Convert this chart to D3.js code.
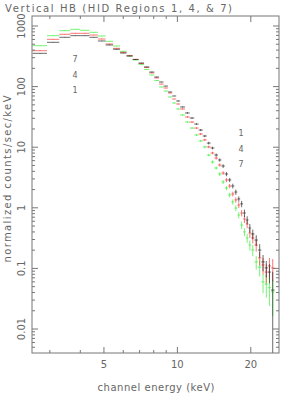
<!DOCTYPE html>
<html>
<head>
<meta charset="utf-8">
<script src="https://cdn.jsdelivr.net/npm/d3@7"></script>
<style>
  body { margin: 0; background: #fff; }
  text { font-family: "DejaVu Sans", sans-serif; fill: #666; }
</style>
</head>
<body>
<svg id="chart"></svg>
<script>
// channel energy bin edges (keV), shared by the three regions
var binEdges = [2.55, 2.92, 3.28, 3.64, 4.00, 4.36, 4.72, 5.08, 5.45, 5.82, 6.19, 6.56, 6.93, 7.30,
  7.67, 8.04, 8.41, 8.78, 9.15, 9.52, 9.89, 10.26, 10.75, 11.24, 11.73, 12.22, 12.71, 13.20, 13.69,
  14.18, 14.67, 15.16, 15.65, 16.14, 16.63, 17.12, 17.61, 18.10, 18.59, 19.08, 19.57, 20.06, 20.7,
  21.4, 22.1, 22.8, 23.5, 24.2, 25.0];

// normalized counts/sec/keV per bin
var region1 = [354, 538, 651, 692, 692, 651, 566, 486, 413, 358, 320, 280, 245, 211, 174, 144, 119,
  102, 81.5, 70, 57.9, 46.1, 36.7, 30.3, 24.1, 19.2, 15.3, 11.7, 9.7, 7.43, 6.15, 4.89, 3.61, 2.88,
  2.29, 1.82, 1.40, 1.16, 0.82, 0.63, 0.465, 0.37, 0.294, 0.201, 0.128, 0.102, 0.087, 0.044];
var region4 = [391, 603, 730, 758, 758, 710, 610, 505, 428, 368, 324, 282, 240, 207, 168, 139, 110,
  94.8, 78.4, 62.4, 51.6, 42.7, 31.5, 26.0, 20.7, 16.5, 13.2, 10.1, 8.02, 6.63, 5.08, 3.75, 2.88,
  2.29, 1.69, 1.35, 1.11, 0.82, 0.653, 0.54, 0.384, 0.318, 0.243, 0.149, 0.114, 0.087, 0.110, 0.102];
var region7 = [473, 692, 837, 882, 849, 787, 684, 559, 468, 382, 320, 275, 233, 192, 155, 126, 98.5,
  84.6, 67.4, 53.6, 42.7, 34.0, 26.0, 20.7, 15.9, 12.7, 10.1, 7.43, 5.70, 4.54, 3.61, 2.67, 2.12,
  1.63, 1.25, 0.99, 0.76, 0.52, 0.40, 0.318, 0.243, 0.201, 0.128, 0.105, 0.060, 0.055, 0.048, 0.041];

// relative 1-sigma errors per bin
var err1 = [0.01, 0.01, 0.01, 0.01, 0.01, 0.01, 0.01, 0.01, 0.01, 0.01, 0.01, 0.01, 0.01, 0.01, 0.01,
  0.01, 0.01, 0.01, 0.01, 0.01, 0.02, 0.02, 0.03, 0.03, 0.03, 0.04, 0.04, 0.05, 0.05, 0.06, 0.06,
  0.07, 0.08, 0.08, 0.09, 0.10, 0.10, 0.12, 0.14, 0.15, 0.16, 0.18, 0.20, 0.25, 0.30, 0.30, 0.35, 1.0];
var err4 = [0.01, 0.01, 0.01, 0.01, 0.01, 0.01, 0.01, 0.01, 0.01, 0.01, 0.01, 0.01, 0.01, 0.01, 0.01,
  0.01, 0.01, 0.01, 0.01, 0.01, 0.02, 0.02, 0.03, 0.03, 0.03, 0.04, 0.04, 0.05, 0.05, 0.06, 0.06,
  0.07, 0.08, 0.08, 0.09, 0.10, 0.11, 0.12, 0.14, 0.15, 0.17, 0.19, 0.22, 0.25, 0.30, 0.35, 0.35, 0.40];
var err7 = [0.01, 0.01, 0.01, 0.01, 0.01, 0.01, 0.01, 0.01, 0.01, 0.01, 0.01, 0.01, 0.01, 0.01, 0.01,
  0.01, 0.01, 0.01, 0.01, 0.02, 0.02, 0.03, 0.03, 0.03, 0.04, 0.04, 0.05, 0.05, 0.06, 0.06, 0.07,
  0.08, 0.08, 0.09, 0.10, 0.11, 0.12, 0.14, 0.15, 0.17, 0.19, 0.21, 0.25, 0.30, 0.35, 0.40, 0.50, 0.60];

var seriesColors = ["#222", "#f33", "#3e3"];
var xTickLabels = [5, 10, 20];
var yTickLabels = ["0.01", "0.1", "1", "10", "100", "1000"];
var leftMarks = ["7", "4", "1"];
var rightMarks = ["1", "4", "7"];

var width = 282, height = 395;
var margin = {top: 16, right: 3, bottom: 42, left: 32};

var svg = d3.select("#chart")
  .attr("width", width)
  .attr("height", height);

var x = d3.scaleLog()
  .domain([2.535, 26.1])
  .range([margin.left, width - margin.right]);

var y = d3.scaleLog()
  .domain([0.00402, 1462])
  .range([height - margin.bottom, margin.top]);

svg.append("clipPath").attr("id", "plotclip")
  .append("rect")
  .attr("x", margin.left).attr("y", margin.top)
  .attr("width", x.range()[1] - margin.left)
  .attr("height", y.range()[0] - margin.top);

// data crosses
var series = [
  {vals: region1, errs: err1, color: seriesColors[0]},
  {vals: region4, errs: err4, color: seriesColors[1]},
  {vals: region7, errs: err7, color: seriesColors[2]}
];

var plot = svg.append("g").attr("clip-path", "url(#plotclip)");

series.slice().reverse().forEach(function(s) {
  var g = plot.append("g")
    .attr("stroke", s.color)
    .attr("stroke-width", 0.9)
    .attr("stroke-opacity", 0.75);
  s.vals.forEach(function(v, i) {
    var lo = binEdges[i], hi = binEdges[i + 1];
    var xc = x((lo + hi) / 2);
    var vlow = v * (1 - s.errs[i]);
    var ylow = vlow > y.domain()[0] ? y(vlow) : y.range()[0];
    g.append("line")
      .attr("x1", x(lo)).attr("x2", x(hi))
      .attr("y1", y(v)).attr("y2", y(v));
    g.append("line")
      .attr("x1", xc).attr("x2", xc)
      .attr("y1", ylow).attr("y2", y(v * (1 + s.errs[i])));
  });
});

// frame
var x0 = margin.left, x1 = x.range()[1], y0 = margin.top, y1 = y.range()[0];
svg.append("rect")
  .attr("x", x0).attr("y", y0)
  .attr("width", x1 - x0).attr("height", y1 - y0)
  .attr("fill", "none").attr("stroke", "#777").attr("stroke-width", 1);

// ticks
var ticks = svg.append("g").attr("stroke", "#777").attr("stroke-width", 1);
var xMinor = x.ticks().filter(function(t) { return xTickLabels.indexOf(t) < 0; });
xMinor.forEach(function(t) {
  ticks.append("line").attr("x1", x(t)).attr("x2", x(t)).attr("y1", y1).attr("y2", y1 - 3);
  ticks.append("line").attr("x1", x(t)).attr("x2", x(t)).attr("y1", y0).attr("y2", y0 + 3);
});
xTickLabels.forEach(function(t) {
  ticks.append("line").attr("x1", x(t)).attr("x2", x(t)).attr("y1", y1).attr("y2", y1 - 6);
  ticks.append("line").attr("x1", x(t)).attr("x2", x(t)).attr("y1", y0).attr("y2", y0 + 6);
});
y.ticks().forEach(function(t) {
  var major = yTickLabels.indexOf(String(+t.toPrecision(3))) >= 0;
  var len = major ? 6 : 3;
  ticks.append("line").attr("x1", x0).attr("x2", x0 + len).attr("y1", y(t)).attr("y2", y(t));
  ticks.append("line").attr("x1", x1).attr("x2", x1 - len).attr("y1", y(t)).attr("y2", y(t));
});

// tick labels
svg.selectAll(".xlab").data(xTickLabels).enter().append("text")
  .attr("x", function(d) { return x(d); })
  .attr("y", y1 + 15)
  .attr("text-anchor", "middle")
  .attr("font-size", 10)
  .text(function(d) { return d; });

svg.selectAll(".ylab").data(yTickLabels).enter().append("text")
  .attr("transform", function(d) { return "translate(25," + y(+d) + ") rotate(-90)"; })
  .attr("text-anchor", "middle")
  .attr("font-size", 10)
  .text(function(d) { return d; });

// titles
svg.append("text")
  .attr("x", 5).attr("y", 12)
  .attr("font-size", 10)
  .attr("textLength", 227).attr("lengthAdjust", "spacing")
  .text("Vertical HB (HID Regions 1, 4, & 7)");

svg.append("text")
  .attr("x", 156).attr("y", 391)
  .attr("text-anchor", "middle")
  .attr("font-size", 10)
  .attr("textLength", 117).attr("lengthAdjust", "spacing")
  .text("channel energy (keV)");

svg.append("text")
  .attr("transform", "translate(11,179) rotate(-90)")
  .attr("text-anchor", "middle")
  .attr("font-size", 10)
  .attr("textLength", 167).attr("lengthAdjust", "spacing")
  .text("normalized counts/sec/keV");

// region markers
svg.selectAll(".lm").data(leftMarks).enter().append("text")
  .attr("x", 75).attr("y", function(d, i) { return 62 + i * 15.5; })
  .attr("text-anchor", "middle").attr("font-size", 8)
  .text(function(d) { return d; });

svg.selectAll(".rm").data(rightMarks).enter().append("text")
  .attr("x", 241).attr("y", function(d, i) { return 136 + i * 15.5; })
  .attr("text-anchor", "middle").attr("font-size", 8)
  .text(function(d) { return d; });
</script>
</body>
</html>
